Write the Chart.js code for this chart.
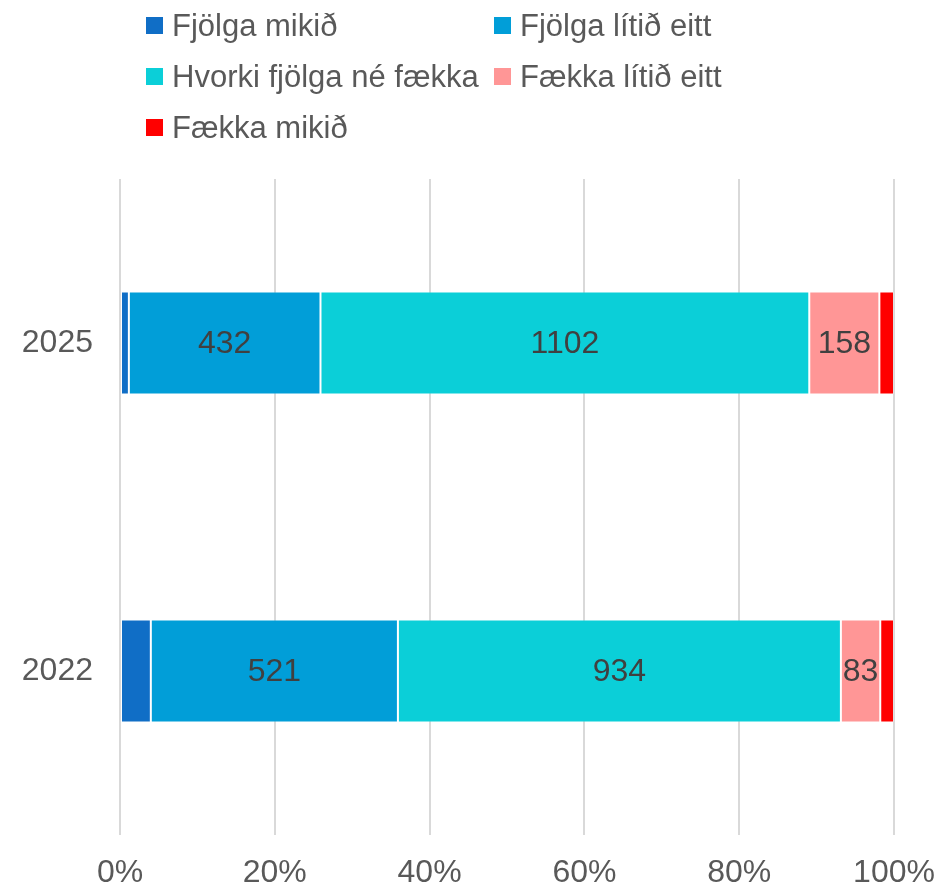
<!DOCTYPE html>
<html>
<head>
<meta charset="utf-8">
<script src="https://cdn.jsdelivr.net/npm/chart.js@4.4.1/dist/chart.umd.min.js"></script>
<style>
    html, body { margin: 0; padding: 0; background: #fff; }
    #wrap { position: relative; width: 947px; height: 886px; }
    #chart { position: absolute; left: 0; top: 0; }
    #legend {
        position: absolute; left: 146px; top: 0;
        display: grid; grid-template-columns: 348px 348px;
        font-family: "Liberation Sans", Arial, sans-serif; font-size: 31px; color: #595959;
    }
    #legend .item { display: flex; align-items: center; height: 51px; white-space: nowrap; }
    #legend .box { width: 17px; height: 17px; margin-right: 9px; flex: none; }
</style>
</head>
<body>
<div id="wrap">
    <canvas id="chart" width="947" height="886"></canvas>
    <div id="legend"></div>
</div>
<script>
const categories = ['2025', '2022'];
const fjolgaMikid = [20, 65];
const fjolgaLitid = [432, 521];
const hvorki = [1102, 934];
const faekkaLitid = [158, 83];
const faekkaMikid = [33, 29];
const xTicks = [0, 20, 40, 60, 80, 100];

const series = [
    { label: 'Fjölga mikið', values: fjolgaMikid, color: '#106EC6', showValue: false },
    { label: 'Fjölga lítið eitt', values: fjolgaLitid, color: '#019ED8', showValue: true },
    { label: 'Hvorki fjölga né fækka', values: hvorki, color: '#0BCFD8', showValue: true },
    { label: 'Fækka lítið eitt', values: faekkaLitid, color: '#FF9696', showValue: true },
    { label: 'Fækka mikið', values: faekkaMikid, color: '#FF0000', showValue: false }
];

// 100% stacked: each bar is turned into shares of its year's total
const totals = categories.map((c, i) => series.reduce((sum, s) => sum + s.values[i], 0));

const valueLabels = {
    id: 'valueLabels',
    afterDatasetsDraw(chart) {
        const ctx = chart.ctx;
        ctx.save();
        ctx.font = '32px "Liberation Sans", Arial, sans-serif';
        ctx.fillStyle = '#404040';
        ctx.textAlign = 'center';
        ctx.textBaseline = 'middle';
        chart.data.datasets.forEach((ds, di) => {
            if (!ds.showValue) return;
            chart.getDatasetMeta(di).data.forEach((bar, i) => {
                const p = bar.getCenterPoint();
                ctx.fillText(String(ds.counts[i]), p.x, p.y + 1);
            });
        });
        ctx.restore();
    }
};

Chart.defaults.font.family = '"Liberation Sans", Arial, sans-serif';
Chart.defaults.color = '#595959';

const chart = new Chart(document.getElementById('chart'), {
    type: 'bar',
    data: {
        labels: categories,
        datasets: series.map(s => ({
            label: s.label,
            data: s.values.map((v, i) => v / totals[i] * 100),
            counts: s.values,
            showValue: s.showValue,
            backgroundColor: s.color,
            borderColor: 'rgba(255,255,255,0.2)',
            borderWidth: 1,
            borderSkipped: false,
            categoryPercentage: 1,
            barPercentage: 0.314
        }))
    },
    options: {
        indexAxis: 'y',
        responsive: false,
        animation: false,
        layout: { padding: { top: 179, right: 53, bottom: 0, left: 22 } },
        plugins: {
            legend: { display: false },
            tooltip: { enabled: false }
        },
        scales: {
            x: {
                stacked: true,
                min: 0,
                max: 100,
                afterBuildTicks: axis => { axis.ticks = xTicks.map(v => ({ value: v })); },
                afterFit: axis => {
                    axis.height = 51;
                    axis.paddingLeft = 0;
                    axis.paddingRight = 0;
                },
                ticks: {
                    callback: v => v + '%',
                    font: { size: 32 },
                    color: '#595959',
                    padding: 19,
                    maxRotation: 0
                },
                grid: { color: '#d9d9d9', lineWidth: 2, drawTicks: false },
                border: { display: false }
            },
            y: {
                stacked: true,
                afterFit: axis => { axis.width = 98; },
                ticks: { font: { size: 32 }, color: '#595959', padding: 27 },
                grid: { display: false, drawTicks: false },
                border: { display: false }
            }
        }
    },
    plugins: [valueLabels]
});

// legend in two columns, built from the chart's datasets
const legend = document.getElementById('legend');
chart.data.datasets.forEach(ds => {
    const item = document.createElement('div');
    item.className = 'item';
    const box = document.createElement('span');
    box.className = 'box';
    box.style.background = ds.backgroundColor;
    const text = document.createElement('span');
    text.textContent = ds.label;
    item.appendChild(box);
    item.appendChild(text);
    legend.appendChild(item);
});
</script>
</body>
</html>
